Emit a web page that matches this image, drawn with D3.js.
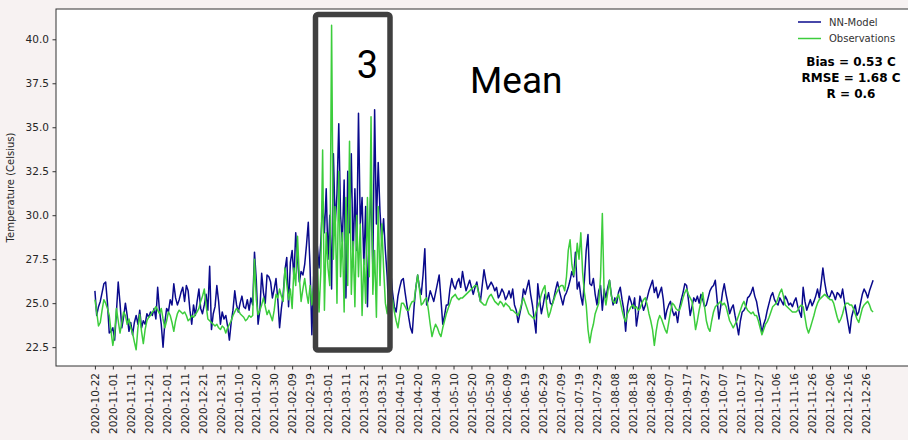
<!DOCTYPE html>
<html>
<head>
<meta charset="utf-8">
<script src="https://cdn.jsdelivr.net/npm/d3@7"></script>
<style>
  html, body { margin: 0; padding: 0; background: #f7f2f2; }
  svg { display: block; }
  .axis text { font-family: "DejaVu Sans", sans-serif; fill: #262626; }
  .axis path, .axis line { stroke: #333; }
</style>
</head>
<body>
<svg id="chart"></svg>
<script>
// first day of the series, one value per day after it
const startDay = "2020-10-22";

// NN-Model, daily (2020-10-22 .. 2021-12-30)
const nnModel = [
  25.7, 24.3, 24.8, 25.1, 25.6, 26.1, 26.2, 25.0, 23.3, 23.4,
  23.6, 22.9, 24.5, 26.2, 25.0, 23.6, 24.2, 25.0, 24.3, 23.4,
  23.9, 23.2, 23.9, 24.3, 23.8, 24.6, 23.6, 24.0, 23.8, 24.4,
  24.2, 24.5, 24.3, 24.7, 24.1, 25.9, 24.6, 23.8, 22.5, 23.9,
  24.7, 24.5, 25.2, 24.9, 26.1, 25.3, 24.9, 25.2, 25.6, 25.9,
  25.1, 26.0, 25.7, 24.6, 23.8, 24.9, 24.3, 25.1, 25.8, 24.7,
  24.4, 24.9, 25.5, 24.6, 27.1, 23.5, 24.4, 24.8, 26.0, 25.1,
  23.8, 24.5, 24.1, 24.3, 23.7, 22.9, 23.9, 24.6, 25.7, 24.9,
  24.5, 25.0, 25.4, 24.8, 24.7, 25.2, 24.6, 25.3, 24.9, 27.9,
  26.3, 23.8, 24.6, 26.7, 25.6, 25.0, 26.6, 26.5, 26.2, 25.3,
  25.8, 26.4, 25.2, 23.6, 24.7, 25.5, 26.9, 27.6, 24.8, 27.3,
  28.0, 26.4, 29.0, 27.5, 26.2, 26.8, 26.6, 27.2, 28.3, 29.6,
  27.0, 23.2, 26.5, 27.8, 28.3, 27.0, 28.5, 30.8, 29.0, 31.5,
  27.5, 30.0, 25.8, 33.5, 29.5, 31.2, 35.2, 30.0, 28.5, 32.0,
  25.3, 32.5, 29.0, 33.5, 27.5, 31.5, 28.0, 35.8, 29.5, 31.0,
  27.2, 30.5, 24.8, 29.0, 31.5, 27.0, 36.0, 29.5, 33.0, 30.2,
  28.5, 29.8, 28.0, 26.5, 24.2, 26.8, 25.6, 24.8, 24.5, 25.4,
  25.9, 26.3, 26.4, 25.6, 24.9, 24.2, 23.6, 23.3, 24.8, 25.9,
  26.6, 25.9, 25.5, 26.6, 28.1, 24.9, 25.2, 25.7, 25.4, 25.1,
  25.6, 26.1, 26.6, 25.2, 23.8, 24.3, 24.9, 24.9, 25.8, 26.4,
  26.0, 25.8, 26.2, 26.4, 25.9, 26.8, 26.2, 25.7, 26.0, 26.3,
  25.9, 25.5, 25.9, 26.2, 25.6, 25.1, 26.0, 26.9, 26.3, 25.8,
  26.0, 26.2, 26.0, 25.7, 25.9, 25.3, 25.5, 25.8, 25.6, 25.2,
  25.4, 25.7, 25.3, 25.8, 24.9, 24.6, 23.9, 24.4, 24.9, 25.8,
  25.5, 25.9, 26.3, 25.5, 24.9, 24.1, 23.3, 26.1, 25.2, 24.4,
  24.9, 25.5, 25.2, 25.6, 25.0, 24.9, 25.3, 25.8, 26.2, 25.7,
  25.3, 24.9, 25.4, 25.6, 25.9, 26.3, 26.8, 26.5, 27.9, 25.8,
  26.2, 25.4, 24.9, 26.3, 28.0, 28.9, 26.1, 26.0, 26.4, 25.5,
  24.9, 25.7, 26.0, 24.6, 25.8, 25.3, 25.9, 26.3, 25.5, 24.9,
  25.3, 25.0, 25.6, 25.9, 25.2, 24.6, 23.4, 24.8, 25.4, 25.1,
  24.7, 25.3, 23.7, 24.4, 25.4, 25.0, 24.6, 24.9, 25.3, 25.7,
  26.0, 26.3, 25.6, 25.9, 25.3, 25.6, 25.9, 25.2, 24.1, 24.6,
  24.9, 25.1, 24.6, 24.3, 24.5, 23.9, 24.7, 25.2, 25.6, 26.1,
  26.0, 25.2, 24.3, 24.8, 25.3, 25.1, 25.4, 25.0, 25.5, 25.2,
  24.8, 24.9, 25.3, 25.7, 25.9, 26.0, 26.3, 25.2, 24.1, 24.8,
  25.6, 26.1, 25.5, 25.0, 24.4, 24.7, 24.9, 24.3, 23.8, 23.2,
  24.0, 24.5, 24.6, 24.8, 25.3, 25.4, 25.6, 25.9, 25.4, 25.1,
  24.5, 24.0, 23.3, 23.8, 24.1, 24.6, 25.0, 25.4, 25.6, 25.2,
  25.0, 24.9, 25.3, 25.1, 24.9, 25.4, 25.2, 24.9, 25.0, 24.8,
  25.1, 25.3, 24.8, 24.5, 24.2, 25.9, 25.1, 24.6, 24.9, 25.2,
  24.85, 25.1, 25.4, 25.8, 25.3, 26.1, 27.0, 26.2, 25.6, 25.3,
  25.4, 25.7, 25.5, 25.2, 25.6, 25.5, 25.3, 25.8, 25.1, 24.5,
  23.9, 23.3, 24.2, 24.6, 24.9, 24.3, 24.5, 25.0, 25.5, 25.8,
  25.6, 25.3, 25.7, 26.0, 26.3
];

// Observations, same days
const observations = [
  25.2, 24.5, 23.7, 23.9, 24.6, 25.2, 25.0, 24.7, 24.3, 23.4,
  22.6, 23.3, 24.7, 24.0, 23.3, 23.9, 24.5, 24.3, 23.8, 24.1,
  23.6, 23.3, 22.8, 22.35, 23.6, 24.35, 23.4, 22.7, 23.5, 24.0,
  24.2, 24.3, 24.5, 24.6, 24.8, 24.6, 24.4, 24.7, 24.1, 23.6,
  24.0, 24.5, 24.3, 23.9, 23.4, 24.0, 24.4, 24.6, 24.5, 24.4,
  24.5, 24.3, 24.0, 24.1, 24.3, 24.2, 24.35, 24.5, 24.7, 25.1,
  25.4, 25.8, 24.9, 24.1, 24.0, 23.9, 23.8, 23.7, 23.8, 23.6,
  23.5, 23.7, 23.6, 23.3, 23.6, 23.8, 24.0, 24.3, 24.5, 24.7,
  24.6, 24.4, 24.3, 24.2, 24.0, 24.1, 24.3, 24.2, 24.3, 27.5,
  25.2, 24.35, 24.6, 24.9, 25.3, 24.8, 24.35, 24.6, 24.3, 24.0,
  24.6, 25.5, 25.3, 25.8, 25.4, 25.1, 27.0, 26.1, 25.2, 25.8,
  24.7, 27.0, 26.0, 28.8, 26.5, 25.1, 25.8, 26.4, 25.6, 25.0,
  26.0, 24.9, 26.0, 25.2, 27.5, 24.5, 26.8, 33.7, 24.6, 29.0,
  27.0, 26.0, 40.8, 27.5, 30.5, 25.0, 32.5, 26.5, 29.0, 24.5,
  31.0, 26.0, 34.2, 25.5, 28.5, 24.8, 30.0, 26.5, 29.5, 24.3,
  27.5, 25.0, 31.0, 26.5, 35.6, 25.5, 28.0, 24.2, 30.5, 26.0,
  29.5, 27.0, 25.0, 24.4, 26.0, 25.5, 25.2, 24.5, 24.0, 23.6,
  24.3, 25.0, 25.0, 24.8, 24.6, 24.6, 24.9, 25.1, 25.1, 25.9,
  26.6, 25.8, 24.9, 25.0, 25.2, 25.3, 24.6, 23.8, 23.1, 23.5,
  23.8, 23.6, 23.3, 23.1, 23.6, 24.0, 24.4, 24.7, 25.0, 25.3,
  25.4, 25.5, 25.3, 25.2, 25.3, 25.3, 25.4, 25.5, 25.6, 25.7,
  25.8, 25.9, 26.0, 26.0, 25.6, 25.1, 25.0, 24.9, 24.9, 25.2,
  25.4, 25.5, 25.3, 25.1, 25.0, 24.9, 25.1, 25.0, 24.8, 25.0,
  24.9, 24.8, 24.6, 24.6, 24.5, 24.4, 24.3, 24.6, 25.0, 25.3,
  25.0, 24.7, 24.4, 24.3, 24.2, 24.1, 24.5, 24.8, 25.1, 25.5,
  25.8, 26.0, 24.8, 24.2, 24.5, 24.9, 25.2, 25.5, 25.7, 25.9,
  26.0, 26.0, 25.7, 26.5, 28.0, 28.6, 27.2, 26.6, 27.1, 28.4,
  27.5, 29.0, 26.75, 25.6, 24.9, 23.5, 22.75, 23.4, 23.8, 24.4,
  24.7, 25.0, 26.5, 30.1, 25.5, 24.9, 25.6, 26.3, 25.4, 25.1,
  25.0, 25.3, 25.5, 25.1, 24.6, 24.2, 23.95, 24.4, 24.6, 24.8,
  24.9, 24.7, 24.8, 24.6, 24.7, 25.0, 25.2, 25.3, 24.9, 24.4,
  24.0, 23.5, 22.6, 23.4, 24.0, 24.3, 24.1, 23.8, 23.5, 23.3,
  23.9, 24.5, 25.0, 24.9, 24.7, 24.6, 24.6, 24.9, 25.3, 25.6,
  25.8, 25.5, 25.3, 25.1, 24.4, 23.5, 24.0, 24.6, 25.1, 25.6,
  24.8, 24.0, 23.6, 23.4, 24.0, 24.5, 24.8, 24.9, 25.0, 25.1,
  24.9, 25.0, 24.8, 24.4, 24.0, 23.8, 23.6, 23.8, 24.0, 24.3,
  24.6, 24.9, 25.1, 24.8, 24.6, 24.5, 24.4, 24.5, 24.3, 24.3,
  24.0, 23.6, 23.2, 23.5, 23.8, 23.95, 24.2, 24.5, 24.8, 24.9,
  25.0, 25.3, 25.6, 25.8, 25.4, 24.9, 24.8, 24.7, 24.6, 24.5,
  24.5, 24.5, 24.6, 24.8, 24.9, 24.8, 24.2, 23.6, 23.3, 23.6,
  23.95, 24.3, 24.7, 25.0, 25.2, 25.3, 25.4, 25.5, 25.4, 25.3,
  25.2, 25.2, 25.0, 24.6, 24.2, 23.9, 24.1, 24.4, 24.8, 25.0,
  25.0, 24.9, 24.9, 24.7, 24.4, 24.1, 23.9, 24.3, 24.7, 24.9,
  25.0, 25.1, 24.9, 24.6, 24.5
];

const xTickLabels = [
  "2020-10-22", "2020-11-01", "2020-11-11", "2020-11-21", "2020-12-01", "2020-12-11",
  "2020-12-21", "2020-12-31", "2021-01-10", "2021-01-20", "2021-01-30", "2021-02-09",
  "2021-02-19", "2021-03-01", "2021-03-11", "2021-03-21", "2021-03-31", "2021-04-10",
  "2021-04-20", "2021-04-30", "2021-05-10", "2021-05-20", "2021-05-30", "2021-06-09",
  "2021-06-19", "2021-06-29", "2021-07-09", "2021-07-19", "2021-07-29", "2021-08-08",
  "2021-08-18", "2021-08-28", "2021-09-07", "2021-09-17", "2021-09-27", "2021-10-07",
  "2021-10-17", "2021-10-27", "2021-11-06", "2021-11-16", "2021-11-26", "2021-12-06",
  "2021-12-16", "2021-12-26"
];
const yTicks = [22.5, 25.0, 27.5, 30.0, 32.5, 35.0, 37.5, 40.0];

const seriesNames = ["NN-Model", "Observations"];
const statsLines = ["Bias = 0.53 C", "RMSE = 1.68 C", "R = 0.6"];

const W = 908, H = 440;
const plot = {left: 56, right: 912, top: 9, bottom: 366};

let svg = d3.select("#chart").attr("width", W).attr("height", H);

let parse = d3.utcParse("%Y-%m-%d");
let t0 = parse(startDay);
let dates = nnModel.map((d, i) => d3.utcDay.offset(t0, i));

// matplotlib style 5% padding on both ends
let first = dates[0], last = dates[dates.length - 1];
let padMs = (last - first) * 0.05;
let x = d3.scaleUtc()
    .domain([new Date(+first - padMs), new Date(+last + padMs)])
    .range([plot.left, plot.right]);

let allVals = nnModel.concat(observations);
let yMin = d3.min(allVals), yMax = d3.max(allVals);
let yPad = (yMax - yMin) * 0.05;
let y = d3.scaleLinear()
    .domain([yMin - yPad, yMax + yPad])
    .range([plot.bottom, plot.top]);

// plot background
svg.append("rect")
    .attr("x", plot.left).attr("y", plot.top)
    .attr("width", plot.right - plot.left).attr("height", plot.bottom - plot.top)
    .attr("fill", "#fff")
    .attr("stroke", "#333")
    .attr("stroke-width", 1);

// axes
let yAxis = d3.axisLeft(y)
    .tickValues(yTicks)
    .tickFormat(d3.format(".1f"))
    .tickSize(3.5)
    .tickPadding(3.5);

svg.append("g")
    .attr("class", "axis")
    .attr("transform", `translate(${plot.left},0)`)
    .call(yAxis)
    .call(g => g.select(".domain").remove())
    .selectAll("text").style("font-size", "10.5px");

let xAxis = d3.axisBottom(x)
    .tickValues(xTickLabels.map(parse))
    .tickFormat(d3.utcFormat("%Y-%m-%d"))
    .tickSize(3.5);

svg.append("g")
    .attr("class", "axis")
    .attr("transform", `translate(0,${plot.bottom})`)
    .call(xAxis)
    .call(g => g.select(".domain").remove())
    .selectAll("text")
        .style("font-size", "10.5px")
        .attr("text-anchor", "end")
        .attr("x", -7)
        .attr("y", 0)
        .attr("dy", "0.35em")
        .attr("transform", "rotate(-90)");

svg.append("text")
    .attr("transform", `translate(14,${(plot.top + plot.bottom) / 2}) rotate(-90)`)
    .attr("text-anchor", "middle")
    .style("font-family", "DejaVu Sans, sans-serif")
    .style("font-size", "10px")
    .style("fill", "#262626")
    .text("Temperature (Celsius)");

// lines
let clip = svg.append("clipPath").attr("id", "clip")
    .append("rect")
    .attr("x", plot.left).attr("y", plot.top)
    .attr("width", plot.right - plot.left).attr("height", plot.bottom - plot.top);

let line = d3.line()
    .x(d => x(d[0]))
    .y(d => y(d[1]));

let colors = ["#0a0a8c", "#3ccd3c"];
[nnModel, observations].forEach((vals, k) => {
    svg.append("path")
        .datum(vals.map((v, i) => [dates[i], v]))
        .attr("clip-path", "url(#clip)")
        .attr("fill", "none")
        .attr("stroke", colors[k])
        .attr("stroke-width", 1.5)
        .attr("stroke-linejoin", "round")
        .attr("d", line);
});

// legend
let legend = svg.append("g").attr("transform", "translate(798,22)");
seriesNames.forEach((name, i) => {
    legend.append("line")
        .attr("x1", 0).attr("x2", 23)
        .attr("y1", i * 16.5).attr("y2", i * 16.5)
        .attr("stroke", colors[i])
        .attr("stroke-width", 1.5);
    legend.append("text")
        .attr("x", 31).attr("y", i * 16.5)
        .attr("dy", "0.35em")
        .style("font-family", "DejaVu Sans, sans-serif")
        .style("font-size", "10px")
        .style("fill", "#333")
        .text(name);
});

// stats
svg.append("g").selectAll("text")
    .data(statsLines)
    .enter()
        .append("text")
        .attr("x", 851)
        .attr("y", (d, i) => 65.5 + i * 16)
        .attr("text-anchor", "middle")
        .style("font-family", "DejaVu Sans, sans-serif")
        .style("font-weight", "bold")
        .style("font-size", "12px")
        .style("fill", "#000")
        .text(d => d);

// highlight box over March
svg.append("rect")
    .attr("x", 315.5).attr("y", 14.5)
    .attr("width", 74.5).attr("height", 335.5)
    .attr("rx", 2.5)
    .attr("fill", "none")
    .attr("stroke", "#404040")
    .attr("stroke-width", 5.5);

svg.append("text")
    .attr("x", 367.5).attr("y", 78)
    .attr("text-anchor", "middle")
    .style("font-family", "Roboto, sans-serif")
    .style("font-size", "38px")
    .style("fill", "#000")
    .text("3");

svg.append("text")
    .attr("x", 470).attr("y", 92.5)
    .style("font-family", "Roboto, sans-serif")
    .style("font-size", "37px")
    .style("fill", "#000")
    .text("Mean");
</script>
</body>
</html>
